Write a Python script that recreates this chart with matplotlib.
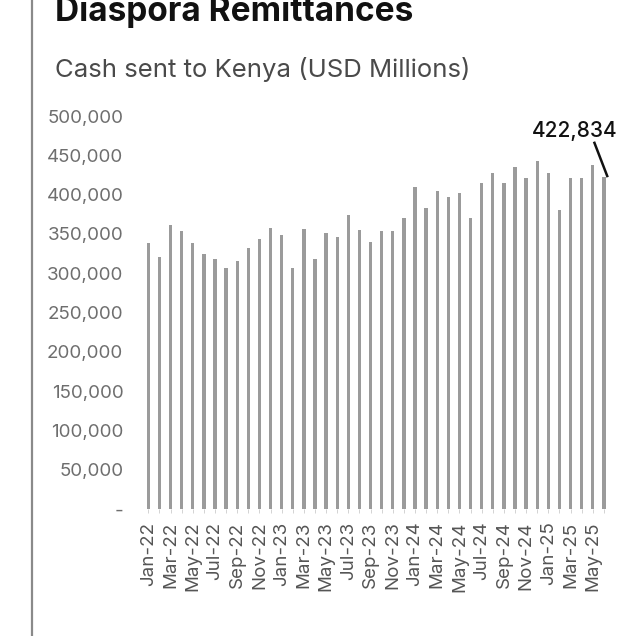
import matplotlib
matplotlib.use('Agg')

import numpy as np
import pandas as pd
import matplotlib.pyplot as plt
import matplotlib.ticker as ticker
from matplotlib.lines import Line2D

plt.rcParams['font.family'] = ['Inter', 'DejaVu Sans']

# monthly remittance inflows, Jan-22 .. Jun-25
months = pd.date_range('2022-01-01', periods=42, freq='MS').strftime('%b-%y').tolist()
inflows = [
    338000, 321000, 361000, 354000, 338000, 324000, 318000, 307000, 316000, 332000, 343000, 357000,
    349000, 307000, 356000, 318000, 351000, 345700, 374000, 355000, 340000, 354000, 354000, 370000,
    410000, 382600, 405000, 396500, 402400, 370000, 414400, 427000, 415000, 435500, 420700, 442800,
    427000, 380000, 420700, 420700, 437700, 422834,
]
y_ticks = [0, 50000, 100000, 150000, 200000, 250000, 300000, 350000, 400000, 450000, 500000]

fig = plt.figure(figsize=(6.2, 6.36), dpi=100)
ax = fig.add_axes([140 / 620, (636 - 509) / 636, 470 / 620, (509 - 116) / 636])

x = np.arange(len(months))
ax.bar(x, inflows, width=0.3, color='#9b9b9b', zorder=2)

ax.set_xlim(-0.75, len(months) - 0.45)
ax.set_ylim(0, 500000)

ax.set_yticks(y_ticks)
ax.yaxis.set_major_formatter(ticker.FuncFormatter(lambda v, p: '-' if v == 0 else f'{int(v):,}'))
ax.tick_params(axis='y', length=0, pad=12, labelsize=13.5, labelcolor='#6e6e6e')

ax.set_xticks(x)
ax.set_xticklabels([m if i % 2 == 0 else '' for i, m in enumerate(months)], rotation=90)
ax.tick_params(axis='x', length=3, width=0.6, color='#cccccc', pad=6, labelsize=13.5, labelcolor='#555555')

for s in ax.spines.values():
    s.set_visible(False)

# latest value callout
last = len(months) - 1
ax.text(last - 2.65, inflows[last] + 58000, f'{inflows[last]:,}', ha='center', va='center',
        fontsize=15, fontweight='medium', color='#111111', clip_on=False)
ax.plot([last - 0.85, last + 0.3], [inflows[last] + 43000, inflows[last] + 800],
        color='#111111', lw=1.8, clip_on=False, zorder=3)

fig.text(55 / 620, 1 - 21 / 636, 'Diaspora Remittances', fontsize=24, fontweight='bold',
         color='#111111', ha='left', va='baseline')
fig.text(55 / 620, 1 - 70 / 636, 'Cash sent to Kenya (USD Millions)', fontsize=18.5,
         color='#4a4a4a', ha='left', va='center')

# left frame rule
fig.add_artist(Line2D([32 / 620, 32 / 620], [0, 1], transform=fig.transFigure,
                      color='#8a8a8a', lw=1.6))

fig.savefig('out.png', dpi=100, facecolor='white')
